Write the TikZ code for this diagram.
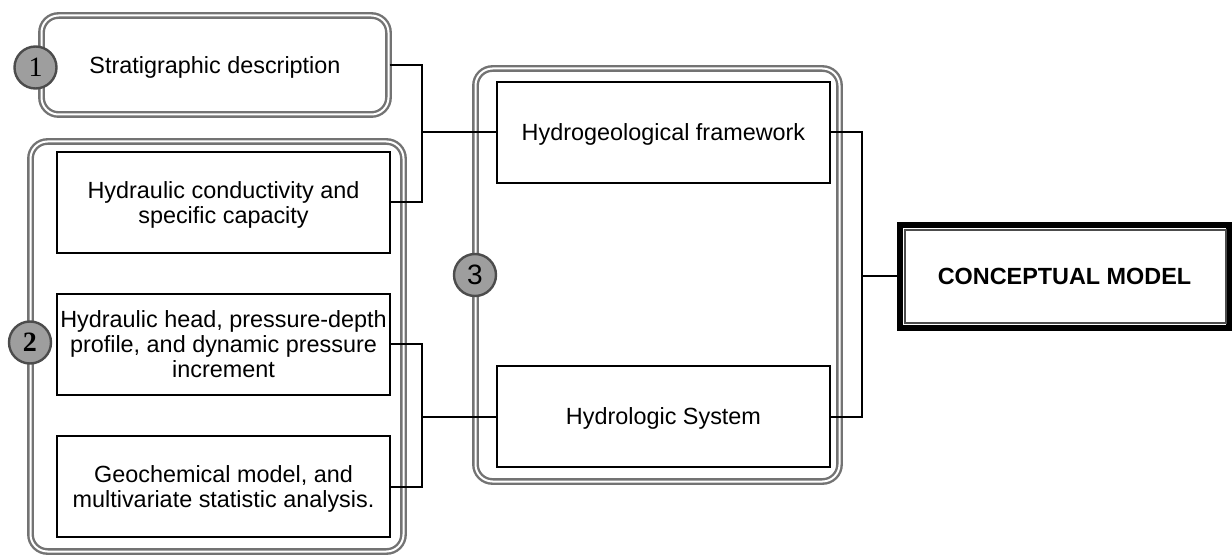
\documentclass[tikz,border=0pt]{standalone}
\usepackage{fontspec}
\setmainfont{Liberation Sans}
\newfontfamily\numserif{Liberation Serif}
\begin{document}
\begin{tikzpicture}[x=1pt,y=-1pt,
    every node/.style={font=\fontsize{23.4}{25}\selectfont},
    item/.style={draw, line width=2pt, minimum width=333pt, minimum height=101pt, align=center, inner sep=0pt, text depth=0pt},
    frame/.style={draw=black!55, double=white, double distance=2pt, line width=2.4pt, rounded corners=17pt, minimum width=#1},
    badge/.style={circle, draw=black!70, line width=2.4pt, fill=black!38, minimum size=42pt, inner sep=0pt, font=\fontsize{28}{28}\selectfont},
    link/.style={line width=2pt}]
\useasboundingbox (0,0) rectangle (1232,556);
% group frames
\node[frame=373pt, minimum height=410pt] (grp2) at (217,346.5) {};
\node[frame=364pt, minimum height=413pt] (grp3) at (657.5,275) {};
\node[frame=347pt, minimum height=99pt, text depth=0pt] (strat) at (215,65) {Stratigraphic description};
% items
\node[item] (hydcond) at (223.5,202.5) {Hydraulic conductivity and\\specific capacity};
\node[item] (hydhead) at (223.5,344) {Hydraulic head, pressure-depth\\profile, and dynamic pressure\\increment};
\node[item] (geochem) at (223.5,486.5) {Geochemical model, and\\multivariate statistic analysis.};
\node[item] (hydgeo) at (663.5,132.5) {Hydrogeological framework};
\node[item] (hydsys) at (663.5,416.5) {Hydrologic System};
\node[draw, line width=6pt, minimum width=329pt, minimum height=103pt, font=\fontsize{23.4}{25}\selectfont\bfseries] (concept) at (1064.5,276.5) {CONCEPTUAL MODEL};
\draw[line width=1.5pt, black!70] ([shift={(8,8)}]concept.north west) rectangle ([shift={(-6,-8)}]concept.south east);
% badges
\node[badge] (b1) at (35.5,67.5) {\numserif 1};
\node[badge] (b2) at (30,342.5) {\numserif\bfseries 2};
\node[badge] (b3) at (475,275) {3};
% connectors
\coordinate (j1) at (422,132.5);
\coordinate (j2) at (422,416.5);
\coordinate (j3) at (862,276.5);
\draw[link] (strat.east) -| (j1) |- (hydcond.east) (j1) -- (hydgeo.west);
\draw[link] (hydhead.east) -| (j2) |- (geochem.east) (j2) -- (hydsys.west);
\draw[link] (hydgeo.east) -| (j3) |- (hydsys.east) (j3) -- (concept.west);
\end{tikzpicture}
\end{document}
